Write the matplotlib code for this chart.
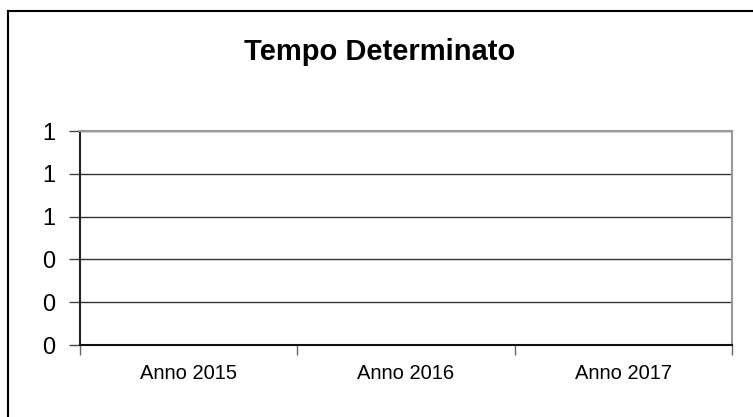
import numpy as np
import matplotlib.pyplot as plt
from matplotlib.lines import Line2D

plt.rcParams['font.family'] = ['Liberation Sans', 'DejaVu Sans']

categories = ['Anno 2015', 'Anno 2016', 'Anno 2017']
values = [0, 0, 0]
yticks = [0, 0.2, 0.4, 0.6, 0.8, 1.0]

W, H = 753, 417
fig = plt.figure(figsize=(W / 100, H / 100), dpi=100)
ax = fig.add_axes([80 / W, (H - 345) / H, (732 - 80) / W, (345 - 131) / H])

x = np.arange(len(categories))
ax.bar(x, values, width=0.6, color='#4f81bd')

ax.set_xlim(-0.5, len(categories) - 0.5)
ax.set_ylim(0, 1)
ax.set_yticks(yticks)
ax.set_yticklabels(['%.0f' % v for v in yticks], fontsize=17)
ax.tick_params(axis='y', length=8, width=1, color='#444444', pad=10)
ax.yaxis.grid(True, color='#333333', linewidth=1)
ax.set_axisbelow(True)

# category boundaries as major ticks, labels as minor ticks
ax.set_xticks(np.arange(len(categories) + 1) - 0.5)
ax.set_xticklabels([])
ax.set_xticks(x, minor=True)
ax.set_xticklabels(categories, minor=True, fontsize=14.5)
ax.tick_params(axis='x', which='major', length=7, width=1, color='#666666')
ax.tick_params(axis='x', which='minor', length=0, pad=14)

for side in ['top', 'right']:
    ax.spines[side].set_color('#999999')
    ax.spines[side].set_linewidth(1.5)
ax.spines['left'].set_color('#222222')
ax.spines['left'].set_linewidth(1.5)
ax.spines['bottom'].set_color('#111111')
ax.spines['bottom'].set_linewidth(1.5)

fig.text(380 / W, 1 - 52 / H, 'Tempo Determinato', ha='center', va='center',
         fontsize=21, fontweight='bold')

# chart frame: only top and left edges visible
fig.add_artist(Line2D([8 / W, 1], [1 - 11 / H, 1 - 11 / H], color='black', lw=1.5))
fig.add_artist(Line2D([8 / W, 8 / W], [0, 1 - 11 / H], color='black', lw=1.5))

fig.savefig('out.png', dpi=100)
